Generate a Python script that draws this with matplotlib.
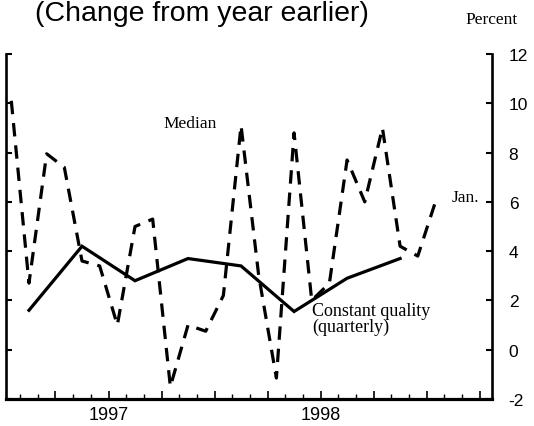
import numpy as np
import matplotlib
matplotlib.use("Agg")
import matplotlib.pyplot as plt

plt.rcParams['font.family'] = ['Liberation Sans', 'DejaVu Sans']

# monthly median price change, Jan 1997 .. Jan 1999 (percent, year over year)
median = [10.1, 2.7, 7.95, 7.4, 3.6, 3.4, 1.0, 5.0, 5.3, -1.5, 1.0, 0.75,
          2.2, 9.1, 3.0, -1.15, 8.8, 2.0, 2.7, 7.7, 6.0, 9.0, 4.2, 3.8, 6.0]
# constant quality index, quarterly, 1997:Q1 .. 1998:Q4
quarterly = [1.6, 4.2, 2.8, 3.7, 3.4, 1.55, 2.9, 3.7]

year_labels = {6: '1997', 18: '1998'}
yticks = [-2, 0, 2, 4, 6, 8, 10, 12]

W, H = 534, 427


def px(x, y):
    # pixel position (from top-left) -> figure fraction
    return x / W, 1 - y / H


fig = plt.figure(figsize=(W / 100, H / 100), dpi=100)
ax = fig.add_axes([6 / W, 1 - 400 / H, (492 - 6) / W, (400 - 55) / H])

# months measured from Jan 1 1997, points plotted mid-month
x_med = np.arange(len(median)) + 0.5
x_q = np.arange(len(quarterly)) * 3 + 1.5

ax.plot(x_med, median, color='black', lw=2.3, linestyle=(0, (4.2, 2.8)),
        dash_capstyle='butt')
ax.plot(x_q, quarterly, color='black', lw=2.3, solid_joinstyle='miter')

ax.set_xlim(0.2, 27.7)
ax.set_ylim(-2, 12)

ax.spines['top'].set_visible(False)
for side in ['left', 'right']:
    ax.spines[side].set_linewidth(1.9)
ax.spines['bottom'].set_linewidth(2.3)

ax.set_yticks(yticks)
ax.set_yticklabels([str(v) for v in yticks])
ax.tick_params(axis='y', which='both', left=True, right=True, direction='in',
               length=4, width=1.5, labelleft=False, labelright=True,
               pad=12, labelsize=12.5)

qt = list(range(3, 28, 3))
ax.set_xticks(qt)
ax.set_xticklabels([year_labels.get(q, '') for q in qt])
ax.set_xticks(range(1, 28), minor=True)
ax.tick_params(axis='x', which='major', direction='in', length=6, width=1.2,
               pad=5, labelsize=13)
ax.tick_params(axis='x', which='minor', direction='in', length=3.5, width=1)

# text
fig.text(*px(35, 21), '(Change from year earlier)', fontsize=20.5,
         va='baseline', ha='left')
serif = ['Liberation Serif', 'DejaVu Serif']
fig.text(*px(518, 24), 'Percent', family=serif, fontsize=12.5,
         va='baseline', ha='right')
fig.text(*px(163, 128), 'Median', family=serif, fontsize=12.5,
         va='baseline', ha='left')
fig.text(*px(452, 202), 'Jan.', family=serif, fontsize=12.5,
         va='baseline', ha='left')
fig.text(*px(312, 316), 'Constant quality', family=serif, fontsize=13,
         va='baseline', ha='left')
fig.text(*px(312, 332), '(quarterly)', family=serif, fontsize=13,
         va='baseline', ha='left')

fig.savefig('out.png', dpi=100)
